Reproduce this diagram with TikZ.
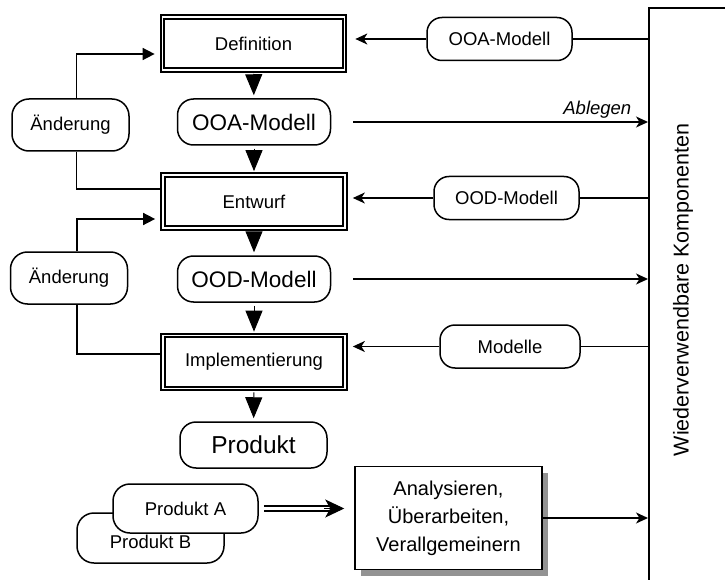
\documentclass[tikz,border=0pt]{standalone}
\usepackage{fontspec}
\setmainfont{Liberation Sans}
\usetikzlibrary{arrows.meta,positioning,calc,shadows}

\begin{document}
\begin{tikzpicture}[x=1pt,y=-1pt,
  phase/.style={draw,double,line width=1.7pt,double distance=1.8pt,minimum width=182pt,minimum height=53pt,inner sep=0pt,font=\fontsize{18.5}{22}\selectfont},
  model/.style={draw,line width=1.5pt,fill=white,rounded corners=16pt,minimum width=153pt,minimum height=46pt,inner sep=0pt,font=\fontsize{22.5}{26}\selectfont},
  smallmodel/.style={model,minimum width=145pt,minimum height=43pt,rounded corners=15pt,font=\fontsize{18.5}{22}\selectfont},
  change/.style={model,minimum width=117pt,minimum height=52pt,rounded corners=17pt,font=\fontsize{18.5}{22}\selectfont},
  flow/.style={line width=1pt,-{Triangle[width=17pt,length=21pt]},shorten <=3pt,shorten >=3pt},
  arr/.style={line width=1.5pt,-{Stealth[length=12pt,width=11pt,inset=3.5pt]}},
  back/.style={line width=1.5pt,-{Triangle[length=12pt,width=12pt]},shorten >=7pt},
  plain/.style={line width=1.5pt}]
\clip (0,0) rectangle (725,580);
\node[draw,line width=1.8pt,anchor=north west,minimum width=120pt,minimum height=620pt] (repo) at (648,7) {};
\node[rotate=90,font=\fontsize{21.5}{26}\selectfont] (repotext) at (683,290) {Wiederverwendbare Komponenten};

\node[phase] (def) at (253.5,43.5) {Definition};
\node[model] (ooa) at (254,122) {OOA-Modell};
\node[phase] (ent) at (254,201.5) {Entwurf};
\node[model] (ood) at (254,279) {OOD-Modell};
\node[phase] (impl) at (254,362) {Implementierung};
\node[model,minimum width=147pt,font=\fontsize{24.5}{28}\selectfont] (prod) at (253.5,445) {Produkt};

\node[change] (aend1) at (70.5,125) {Änderung};
\node[change] (aend2) at (69,278) {Änderung};

\node[smallmodel] (ooar) at (499.5,39) {OOA-Modell};
\node[smallmodel] (oodr) at (506.5,198) {OOD-Modell};
\node[smallmodel,minimum width=140pt] (modr) at (510,346.5) {Modelle};

\node[smallmodel,minimum width=147pt,minimum height=50pt,rounded corners=17pt,text height=21pt] (prodb) at (150.5,538) {Produkt B};
\node[smallmodel,minimum height=49pt,rounded corners=17pt] (proda) at (185.5,508.5) {Produkt A};
\node[draw,line width=1.5pt,fill=white,minimum width=187pt,minimum height=103pt,inner sep=0pt,align=center,font=\fontsize{20}{28}\selectfont,drop shadow={shadow xshift=6pt,shadow yshift=-6pt,fill=gray!85,opacity=1}] (ana) at (448.5,518) {Analysieren,\\Überarbeiten,\\Verallgemeinern};

\draw[flow] (def) -- (ooa);
\draw[flow] (ooa) -- (ent);
\draw[flow] (ent) -- (ood);
\draw[flow] (ood) -- (impl);
\draw[flow] (impl) -- (prod);

\draw[arr,shorten <=22pt] (ooa.east) -- (ooa.east -| repo.west) node[pos=.84,above,font=\itshape\fontsize{18.5}{22}\selectfont]{Ablegen};
\draw[arr,shorten <=22pt] (ood.east) -- (ood.east -| repo.west);
\draw[arr] (ana) -- (ana -| repo.west);

\draw[plain] (ooar) -- (ooar -| repo.west);
\draw[plain] (oodr) -- (oodr -| repo.west);
\draw[plain] (modr) -- (modr -| repo.west);
\draw[arr,shorten >=10pt] (ooar) -- (ooar -| def.east);
\draw[arr,shorten >=7pt] (oodr) -- (oodr -| ent.east);
\draw[arr,shorten >=7pt] (modr) -- (modr -| impl.east);

\draw[back] ([xshift=6pt]aend1.north) |- ([yshift=-10.5pt]def.west);
\draw[plain] ([xshift=6pt]aend1.south) |- ([yshift=12.5pt]ent.west);
\draw[back] ([xshift=8pt]aend2.north) |- ([yshift=-17.5pt]ent.west);
\draw[plain] ([xshift=8pt]aend2.south) |- ([yshift=8pt]impl.west);

\draw[line width=1.8pt,double distance=2.6pt,shorten <=5pt,shorten >=24pt] (proda) -- (proda -| ana.west);
\draw[line width=1pt,-{Stealth[length=19pt,width=18pt,inset=5pt]},shorten >=10pt] ([xshift=-30pt]proda -| ana.west) -- (proda -| ana.west);
\end{tikzpicture}
\end{document}
